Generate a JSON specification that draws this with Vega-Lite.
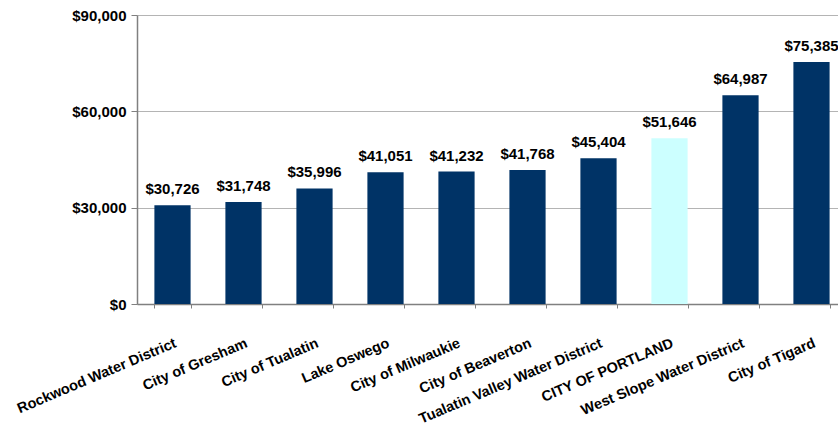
{
  "$schema": "https://vega.github.io/schema/vega-lite/v6.json",
  "autosize": {"type": "none"},
  "width": 701,
  "height": 289,
  "padding": {"left": 137, "top": 15, "right": 0, "bottom": 125},
  "background": "white",
  "config": {
    "view": {"stroke": null},
    "font": "Liberation Sans",
    "axis": {"labelFont": "Liberation Sans", "labelFontWeight": "bold", "labelColor": "black"}
  },
  "data": {
    "values": [
      {"name": "Rockwood Water District", "cost": 30726},
      {"name": "City of Gresham", "cost": 31748},
      {"name": "City of Tualatin", "cost": 35996},
      {"name": "Lake Oswego", "cost": 41051},
      {"name": "City of Milwaukie", "cost": 41232},
      {"name": "City of Beaverton", "cost": 41768},
      {"name": "Tualatin Valley Water District", "cost": 45404},
      {"name": "CITY OF PORTLAND", "cost": 51646},
      {"name": "West Slope Water District", "cost": 64987},
      {"name": "City of Tigard", "cost": 75385}
    ]
  },
  "encoding": {
    "x": {
      "field": "name", "type": "nominal", "sort": null,
      "scale": {"range": [0, 710], "paddingInner": 0.49, "paddingOuter": 0.245},
      "axis": {
        "title": null, "labelAngle": -23, "labelAlign": "right", "labelBaseline": "top",
        "labelPadding": 28, "labelFontSize": 14.5, "tickBand": "extent", "tickSize": 4,
        "domainColor": "#808080", "tickColor": "#808080", "domainWidth": 1.5, "labelLimit": 400
      }
    },
    "y": {
      "field": "cost", "type": "quantitative",
      "scale": {"domain": [0, 90000], "nice": false},
      "axis": {
        "title": null, "values": [0, 30000, 60000, 90000], "format": "$,d",
        "labelFontSize": 15, "labelPadding": 5, "tickSize": 6,
        "domainColor": "#808080", "tickColor": "#808080", "domainWidth": 1.5,
        "gridColor": "#b4b4b4", "gridWidth": 1
      }
    }
  },
  "layer": [
    {
      "mark": {"type": "bar"},
      "encoding": {
        "color": {
          "condition": {"test": "datum.name === 'CITY OF PORTLAND'", "value": "#CCFFFF"},
          "value": "#003366"
        }
      }
    },
    {
      "mark": {"type": "text", "baseline": "alphabetic", "dy": -11, "fontSize": 15, "fontWeight": "bold", "color": "black"},
      "encoding": {"text": {"field": "cost", "type": "quantitative", "format": "$,d"}}
    }
  ]
}
